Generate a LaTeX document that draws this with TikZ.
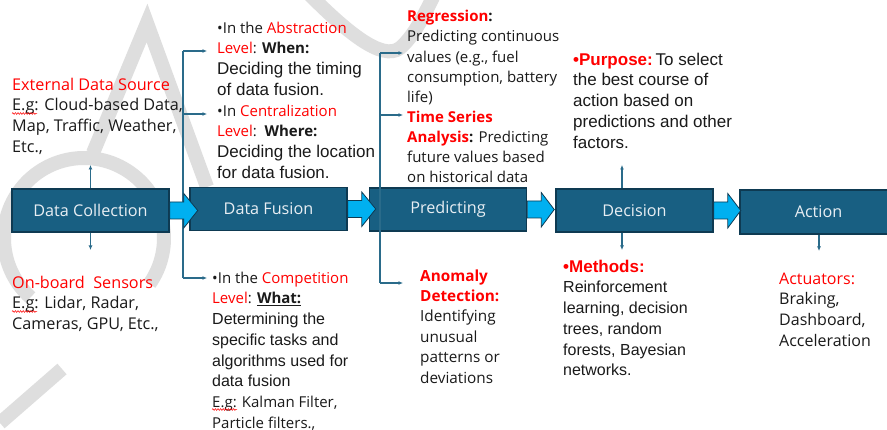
\documentclass[tikz,border=0pt]{standalone}
\usepackage{fontspec}
\setmainfont{Liberation Sans}
\newfontfamily\aptos{Open Sans}
\usetikzlibrary{arrows.meta,decorations.pathmorphing}

\definecolor{boxfill}{HTML}{185F82}
\definecolor{boxline}{HTML}{0E3A52}
\definecolor{flow}{HTML}{00B0F0}
\definecolor{link}{HTML}{2A6B8A}
\definecolor{hot}{HTML}{FF0000}
\definecolor{ink}{HTML}{1A1A1A}
\definecolor{wmark}{HTML}{DEDEDE}
\definecolor{boxtext}{HTML}{E8EEF3}

\newcommand\ap[1]{\aptos\fontsize{#1}{20.7}\selectfont}
\newcommand\ar[1]{\fontsize{#1}{20.7}\selectfont}

\tikzset{
  stage/.style={draw=boxline, line width=1.5pt, fill=boxfill, text=boxtext,
    minimum width=157pt, minimum height=43pt, inner sep=0pt,
    font=\aptos\fontsize{16.2}{18}\selectfont},
  txt/.style={anchor=north west, inner sep=0pt, align=left, text=ink},
  link/.style={draw=link, line width=1.1pt},
  linkarrow/.style={link, -{Latex[length=4.5pt,width=4pt]}},
  flowarrow/.style={fill=flow, draw=boxline, line width=0.8pt, line join=miter},
  wm/.style={draw=wmark, line width=14pt, line cap=butt, line join=miter},
  squiggle/.style={draw=hot, line width=0.5pt, decorate,
    decoration={snake, amplitude=0.9pt, segment length=2.6pt}}
}

\newcommand\blockarrow[2]{%
  \draw[flowarrow] ([yshift=8.5pt]#1.east) -- ++(14,0) -- ++(0,-8.5)
    -- ([xshift=#2]#1.east) -- ++(-#2+14,17.5) -- ++(0,-9) -- ++(-14,0) -- cycle;}

\begin{document}
\begin{tikzpicture}[x=1pt, y=-1pt]
\useasboundingbox (0,0) rectangle (887,430);
\fill[white] (0,0) rectangle (887,430);

% faint letters behind the diagram
\draw[wm] (84,238) ++(35:80) arc[start angle=35, end angle=-228, radius=80];
\draw[wm] (0,423) -- (62,369);
\draw[wm] (93,153) -- (147,23) -- (207,187);
\draw[wm] (310,-5) .. controls (345,30) and (382,62) .. (400,48) .. controls (412,38) and (422,20) .. (434,-5);

% stages
\node[stage] (dc)  at (90.5,210.5) {Data Collection};
\node[stage] (df)  at (268.5,209)  {Data Fusion};
\node[stage] (pr)  at (448,209.5)  {Predicting};
\node[stage] (de)  at (634.5,210.5) {Decision};
\node[stage, minimum height=44pt] (ac) at (818.5,212) {Action};

% text blocks
\node[txt, font=\ap{16.2}] (ext) at (12,75.4) {%
  \strut{\color{hot}External Data Source}\\
  E.g: Cloud-based Data,\\
  Map, Traffic, Weather,\\
  Etc.,};
\node[txt, font=\ap{16.2}] (sens) at (12,273.4) {%
  \strut{\color{hot}On-board\ \ Sensors}\\
  E.g: Lidar, Radar,\\
  Cameras, GPU, Etc.,};

\node[txt, font=\ar{17}] (fusetop) at (217,18.6) {%
  \strut\ap{15}\textbullet In the {\color{hot}Abstraction}\\
  \ap{15}{\color{hot}Level}: \textbf{When:}\\
  Deciding the timing\\
  of data fusion.\\
  \ap{15}\textbullet In {\color{hot}Centralization}\\
  \ap{15}{\color{hot}Level}:\ \ \textbf{Where:}\\
  Deciding the location\\
  for data fusion.};
\node[txt, font=\ar{16}] (fusebot) at (212,268.6) {%
  \strut\ap{15}\textbullet In the {\color{hot}Competition}\\
  \ap{15}{\color{hot}Level}: \underline{\textbf{What:}}\\
  Determining the\\
  specific tasks and\\
  algorithms used for\\
  data fusion\\
  \ap{15}E.g: Kalman Filter,\\
  \ap{15}Particle filters.,};

\node[txt, font=\aptos\fontsize{15}{20.1}\selectfont] (predtop) at (407,7.6) {%
  \strut{\bfseries\color{hot}Regression}\textbf{:}\\
  Predicting continuous\\
  values (e.g., fuel\\
  consumption, battery\\
  life)\\
  {\bfseries\color{hot}Time Series}\\
  {\bfseries\color{hot}Analysis}\textbf{:} Predicting\\
  future values based\\
  on historical data};
\node[txt, font=\aptos\fontsize{15.3}{20.4}\selectfont] (predbot) at (420,266.6) {%
  \strut{\bfseries\color{hot}Anomaly}\\
  {\bfseries\color{hot}Detection:}\\
  Identifying\\
  unusual\\
  patterns or\\
  deviations};

\node[txt, font=\ar{17}] (dectop) at (573,50.6) {%
  \strut{\bfseries\color{hot}\textbullet Purpose:}\,To select\\
  the best course of\\
  action based on\\
  predictions and other\\
  factors.};
\node[txt, font=\ar{16}] (decbot) at (563,257.6) {%
  \strut\ar{17}{\bfseries\color{hot}\textbullet Methods:}\\
  Reinforcement\\
  learning, decision\\
  trees, random\\
  forests, Bayesian\\
  networks.};

\node[txt, font=\ap{16}] (act) at (779,269.4) {%
  \strut{\color{hot}Actuators:}\\
  Braking,\\
  Dashboard,\\
  Acceleration};

% spell-check squiggles under "E.g"
\draw[squiggle] (12,113.5) -- (37,113.5);
\draw[squiggle] (12,311.5) -- (37,311.5);
\draw[squiggle] (212,409.5) -- (237,409.5);

% connector end points
\coordinate (dcup) at (90.5,165);
\coordinate (dcdn) at (90.5,250);
\coordinate (deup) at (622,165);
\coordinate (dedn) at (622,250);
\coordinate (acdn) at (819,251);
\coordinate (fa) at (207,51);
\coordinate (fb) at (207,114);
\coordinate (fc) at (207,278);
\coordinate (pa) at (403,53);
\coordinate (pb) at (403,115);
\coordinate (pc) at (403,283);

\draw[linkarrow] (dc.north) -- (dcup);
\draw[linkarrow] (dc.south) -- (dcdn);
\draw[linkarrow] (de.north -| deup) -- (deup);
\draw[linkarrow] (de.south -| dedn) -- (dedn);
\draw[linkarrow] (ac.south -| acdn) -- (acdn);

% branching brackets
\draw[link] (183,51) -- (183,278);
\draw[linkarrow] (183,51) -- (fa);
\draw[linkarrow] (183,114) -- (fb);
\draw[linkarrow] (183,278) -- (fc);
\draw[link] (380,53) -- (380,283);
\draw[linkarrow] (380,53) -- (pa);
\draw[linkarrow] (380,115) -- (pb);
\draw[linkarrow] (380,283) -- (pc);

% flow arrows between stages
\blockarrow{dc}{28}
\blockarrow{df}{28}
\blockarrow{pr}{27}
\blockarrow{de}{27}
\end{tikzpicture}
\end{document}
